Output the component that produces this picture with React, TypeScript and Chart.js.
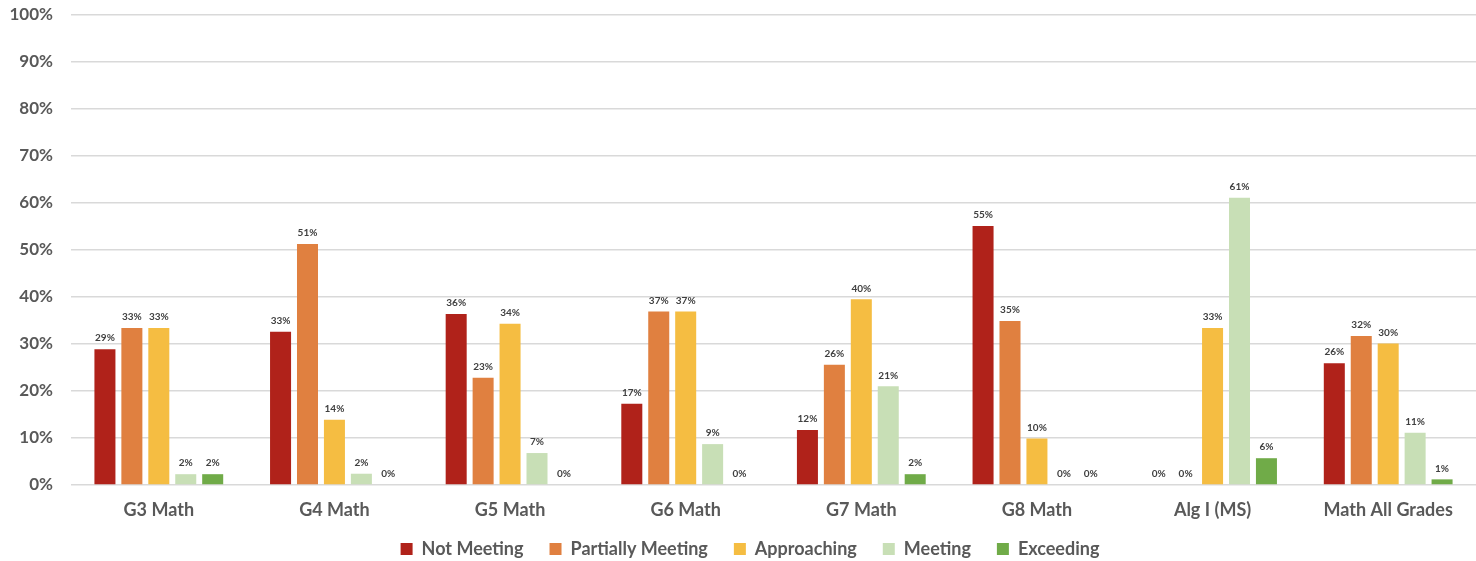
import React, { useEffect, useRef } from "react";
import { Chart, registerables } from "chart.js";

Chart.register(...registerables);

const categories = ["G3 Math", "G4 Math", "G5 Math", "G6 Math", "G7 Math", "G8 Math", "Alg I (MS)", "Math All Grades"];
const notMeeting = [28.9, 32.6, 36.4, 17.3, 11.7, 55.1, 0, 25.9];
const partiallyMeeting = [33.4, 51.3, 22.8, 36.9, 25.6, 34.9, 0, 31.7];
const approaching = [33.4, 13.9, 34.3, 36.9, 39.5, 9.9, 33.4, 30.1];
const meeting = [2.3, 2.4, 6.8, 8.7, 21.0, 0, 61.1, 11.1];
const exceeding = [2.3, 0, 0, 0, 2.3, 0, 5.7, 1.2];
const seriesNames = ["Not Meeting", "Partially Meeting", "Approaching", "Meeting", "Exceeding"];
const seriesColors = ["#B0221A", "#E08040", "#F5BD42", "#C8DFB6", "#70AB48"];
const yTicks = [0, 10, 20, 30, 40, 50, 60, 70, 80, 90, 100];

const FONT = "Lato, 'Open Sans', sans-serif";

const labelPlugin = {
  id: "barValueLabels",
  afterLayout(chart: any) {
    if (chart.legend) {
      chart.legend.left += 12;
      chart.legend.right += 12;
    }
  },
  afterDatasetsDraw(chart: any) {
    const ctx = chart.ctx;
    ctx.save();
    ctx.font = `bold 10px ${FONT}`;
    ctx.fillStyle = "#404040";
    ctx.textAlign = "center";
    ctx.textBaseline = "bottom";
    chart.data.datasets.forEach((ds: any, i: number) => {
      const meta = chart.getDatasetMeta(i);
      meta.data.forEach((bar: any, j: number) => {
        const v = ds.data[j];
        ctx.fillText(Math.round(v) + "%", bar.x, bar.y - 6);
      });
    });
    // category labels below the axis
    const xs = chart.scales.x;
    ctx.font = `bold 18px ${FONT}`;
    ctx.fillStyle = "#595959";
    ctx.textBaseline = "middle";
    chart.data.labels.forEach((lab: string, i: number) => {
      ctx.fillText(lab, xs.getPixelForTick(i), chart.chartArea.bottom + 25);
    });
    ctx.restore();
  },
};

export default function App() {
  const ref = useRef<HTMLCanvasElement>(null);
  useEffect(() => {
    const data = [notMeeting, partiallyMeeting, approaching, meeting, exceeding];
    const chart = new Chart(ref.current!, {
      type: "bar",
      data: {
        labels: categories,
        datasets: seriesNames.map((name, i) => ({
          label: name,
          data: data[i],
          backgroundColor: seriesColors[i],
          categoryPercentage: 0.767,
          barPercentage: 0.78,
        })),
      },
      options: {
        animation: false,
        responsive: true,
        maintainAspectRatio: false,
        layout: { padding: { top: 15, left: 0, right: 0, bottom: 0 } },
        plugins: {
          tooltip: { enabled: false },
          legend: {
            position: "bottom",
            maxHeight: 47,
            labels: {
              boxWidth: 12,
              boxHeight: 12,
              padding: 26,
              color: "#595959",
              font: { family: FONT, size: 18, weight: "bold" },
            },
          },
        },
        scales: {
          x: {
            afterFit(scale: any) {
              scale.height = 29;
              scale.paddingLeft = 0;
              scale.paddingRight = 0;
            },
            grid: { display: false, drawTicks: false },
            border: { display: false },
            ticks: { display: false },
          },
          y: {
            min: 0,
            max: 100,
            afterFit(scale: any) {
              scale.width = 71;
              scale.paddingTop = 0;
              scale.paddingBottom = 0;
            },
            afterBuildTicks(scale: any) {
              scale.ticks = yTicks.map((v) => ({ value: v }));
            },
            grid: { color: "#D9D9D9", lineWidth: 1.5, drawTicks: false },
            border: { display: false },
            ticks: {
              color: "#595959",
              padding: 18,
              font: { family: FONT, size: 17, weight: "bold" },
              callback: (v: any) => v + "%",
            },
          },
        },
      },
      plugins: [labelPlugin],
    });
    return () => chart.destroy();
  }, []);
  return (
    <div style={{ position: "fixed", left: 0, top: 0, width: 1476, height: 561, background: "#fff" }}>
      <canvas ref={ref} />
    </div>
  );
}
